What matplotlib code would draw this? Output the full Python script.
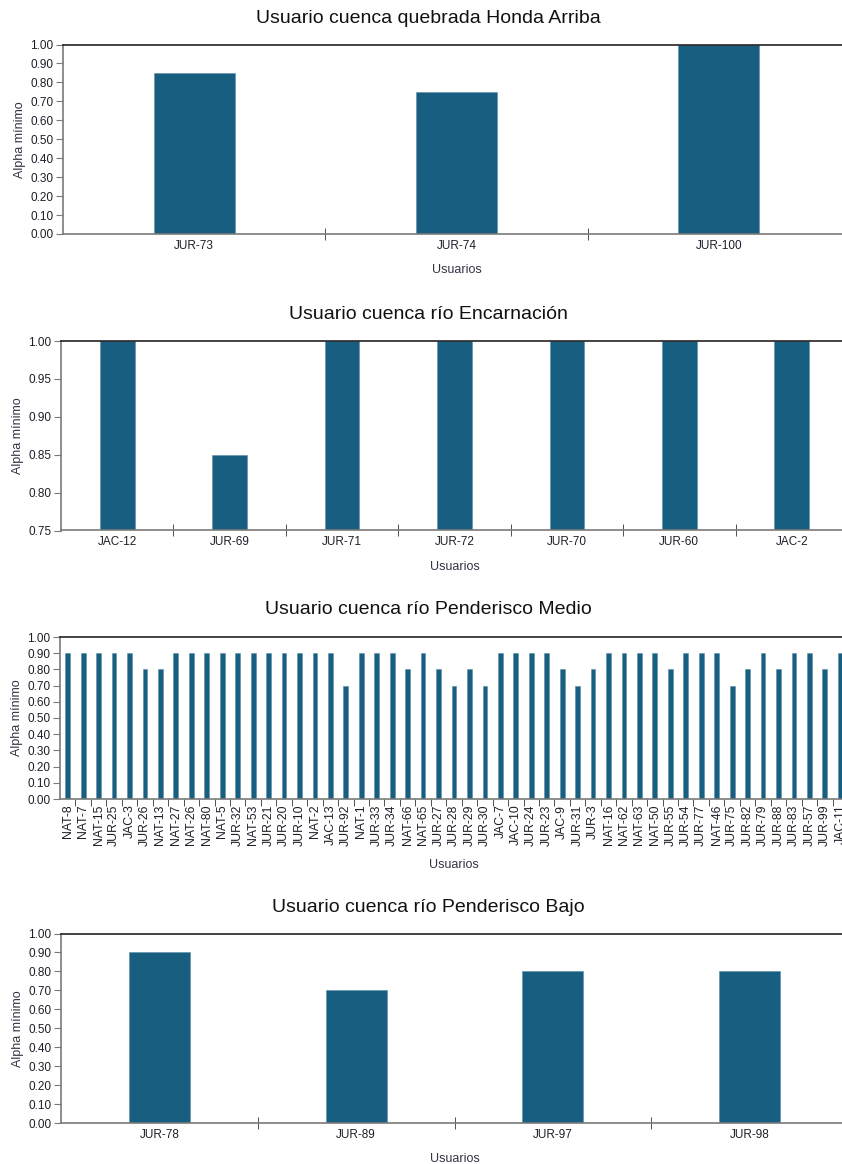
import matplotlib
matplotlib.use("Agg")
import matplotlib.pyplot as plt
import numpy as np
from matplotlib.ticker import FixedLocator, FormatStrFormatter

plt.rcParams["font.family"] = ["Liberation Sans", "DejaVu Sans"]

# data
honda_users = ["JUR-73", "JUR-74", "JUR-100"]
honda_alpha = [0.85, 0.75, 1.00]

encarnacion_users = ["JAC-12", "JUR-69", "JUR-71", "JUR-72", "JUR-70", "JUR-60", "JAC-2"]
encarnacion_alpha = [1.00, 0.85, 1.00, 1.00, 1.00, 1.00, 1.00]

medio_users = ["NAT-8", "NAT-7", "NAT-15", "JUR-25", "JAC-3", "JUR-26", "NAT-13",
               "NAT-27", "NAT-26", "NAT-80", "NAT-5", "JUR-32", "NAT-53", "JUR-21",
               "JUR-20", "JUR-10", "NAT-2", "JAC-13", "JUR-92", "NAT-1", "JUR-33",
               "JUR-34", "NAT-66", "NAT-65", "JUR-27", "JUR-28", "JUR-29", "JUR-30",
               "JAC-7", "JAC-10", "JUR-24", "JUR-23", "JAC-9", "JUR-31", "JUR-3",
               "NAT-16", "NAT-62", "NAT-63", "NAT-50", "JUR-55", "JUR-54", "JUR-77",
               "NAT-46", "JUR-75", "JUR-82", "JUR-79", "JUR-88", "JUR-83", "JUR-57",
               "JUR-99", "JAC-11"]
medio_alpha = [0.9, 0.9, 0.9, 0.9, 0.9, 0.8, 0.8,
               0.9, 0.9, 0.9, 0.9, 0.9, 0.9, 0.9,
               0.9, 0.9, 0.9, 0.9, 0.7, 0.9, 0.9,
               0.9, 0.8, 0.9, 0.8, 0.7, 0.8, 0.7,
               0.9, 0.9, 0.9, 0.9, 0.8, 0.7, 0.8,
               0.9, 0.9, 0.9, 0.9, 0.8, 0.9, 0.9,
               0.9, 0.7, 0.8, 0.9, 0.8, 0.9, 0.9,
               0.8, 0.9]

bajo_users = ["JUR-78", "JUR-89", "JUR-97", "JUR-98"]
bajo_alpha = [0.90, 0.70, 0.80, 0.80]

W, H = 842, 1164
BAR = "#175e80"
GRAY = "#7a7a7a"
TXT = "#1e1e2a"

fig = plt.figure(figsize=(W / 100, H / 100), dpi=100)


def _axes(x0, y_top, x1, y_bot):
    ax = fig.add_axes([x0 / W, 1 - y_bot / H, (x1 - x0) / W, (y_bot - y_top) / H])
    for s in ("left", "bottom"):
        ax.spines[s].set_color(GRAY)
        ax.spines[s].set_linewidth(1.2)
    ax.spines["top"].set_color("#222222")
    ax.spines["top"].set_linewidth(1.2)
    ax.spines["right"].set_visible(False)
    return ax


def panel(rect, title, title_y, users, vals, ylim, ystep, rotate=False):
    ax = _axes(*rect)
    x = np.arange(len(users))
    ax.bar(x, vals, width=0.31, color=BAR, edgecolor="#5d8fa8", linewidth=0.4)
    ax.set_xlim(-0.5, len(users) - 0.5)
    ax.set_ylim(*ylim)
    ax.set_yticks(np.arange(ylim[0], ylim[1] + ystep / 2, ystep))
    ax.yaxis.set_major_formatter(FormatStrFormatter("%.2f"))
    ax.tick_params(axis="y", direction="out", length=5, color=GRAY,
                   labelsize=8.5, labelcolor=TXT, pad=2)
    ax.set_xticks(x)
    ax.set_xticklabels(users, rotation=90 if rotate else 0)
    ax.tick_params(axis="x", which="major", length=0, labelsize=8.8 if rotate else 8.5,
                   labelcolor=TXT, pad=4)
    ax.xaxis.set_minor_locator(FixedLocator(np.arange(0.5, len(users) - 0.5, 1.0)))
    if rotate:
        ax.tick_params(axis="x", which="minor", direction="out", length=5,
                       color="#333333")
    else:
        ax.tick_params(axis="x", which="minor", direction="inout", length=9,
                       color="#333333")
    ax.set_xlabel("Usuarios", fontsize=9, color="#333344", labelpad=9)
    ax.set_ylabel("Alpha mínimo", fontsize=9, color="#333344", labelpad=3)
    fig.text(0.509, 1 - title_y / H, title, ha="center", va="center",
             fontsize=14, color="#111111")
    return ax


panel((63, 44.5, 850, 234), "Usuario cuenca quebrada Honda Arriba", 18.5,
      honda_users, honda_alpha, (0.0, 1.0), 0.1)
panel((61, 341, 848, 530.5), "Usuario cuenca río Encarnación", 314.5,
      encarnacion_users, encarnacion_alpha, (0.75, 1.0), 0.05)
panel((60, 637, 848, 799), "Usuario cuenca río Penderisco Medio", 610,
      medio_users, medio_alpha, (0.0, 1.0), 0.1, rotate=True)
panel((61, 933.5, 848, 1123), "Usuario cuenca río Penderisco Bajo", 907,
      bajo_users, bajo_alpha, (0.0, 1.0), 0.1)

fig.savefig("out.png", dpi=100, facecolor="white")
